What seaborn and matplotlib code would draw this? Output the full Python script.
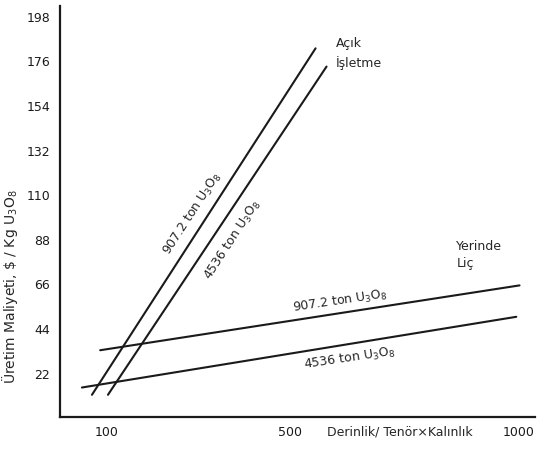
import pandas as pd
import matplotlib
matplotlib.use("Agg")
import matplotlib.pyplot as plt
import seaborn as sns

# Değerler (grafikten okunmuş uç noktalar)
seriler = ["acik_907", "acik_4536", "yerinde_907", "yerinde_4536"]
x_bas = [67, 102, 85, 45]
x_son = [556, 580, 1002, 995]
y_bas = [11, 11, 33, 14.6]
y_son = [182, 173, 65, 49.5]

x_ticks = [100, 200, 300, 400, 500, 600, 700, 800, 900, 1000]
x_tick_labels = ["100", "", "", "", "500", "", "", "", "", "1000"]
y_ticks = [22, 44, 66, 88, 110, 132, 154, 176, 198]

df = pd.DataFrame({
    "seri": seriler * 2,
    "x": x_bas + x_son,
    "y": y_bas + y_son,
})

sns.set_style("white")
plt.rcParams["font.family"] = ["DejaVu Sans"]

fig = plt.figure(figsize=(5.4, 4.52), dpi=100)
ax = fig.add_axes([0.111, 0.075, 0.879, 0.91])

sns.lineplot(data=df, x="x", y="y", units="seri", estimator=None,
             color="#1a1a1a", linewidth=1.5, ax=ax)

ax.set_xlim(-3, 1035)
ax.set_ylim(0, 203)
ax.set_xticks(x_ticks)
ax.set_xticklabels(x_tick_labels)
ax.set_yticks(y_ticks)
ax.tick_params(direction="in", length=4, width=1.2, labelsize=9,
               colors="#1a1a1a")
ax.tick_params(axis="x", pad=6)
ax.tick_params(axis="y", pad=7)
for s in ["top", "right"]:
    ax.spines[s].set_visible(False)
for s in ["left", "bottom"]:
    ax.spines[s].set_linewidth(1.6)
    ax.spines[s].set_color("#1a1a1a")

ax.set_ylabel(r"Üretim Maliyeti, \$ / Kg U$_3$O$_8$", fontsize=10)
ax.yaxis.set_label_coords(-0.084, 0.32)
ax.set_xlabel("Derinlik/ Tenör×Kalınlık", fontsize=9)
ax.xaxis.set_label_coords(0.716, -0.017)

# Etiketler
ax.text(600, 188, "Açık\nİşletme", fontsize=9, ha="left", va="top",
        linespacing=1.5)
ax.text(864, 88, "Yerinde\nLiç", fontsize=9, ha="left", va="top",
        linespacing=1.4)
ax.text(288, 101, r"907.2 ton U$_3$O$_8$", fontsize=9, rotation=57,
        ha="center", va="center")
ax.text(375, 88, r"4536 ton U$_3$O$_8$", fontsize=9, rotation=57,
        ha="center", va="center")
ax.text(609, 57.5, r"907.2 ton U$_3$O$_8$", fontsize=9, rotation=8.5,
        ha="center", va="center")
ax.text(631, 29.5, r"4536 ton U$_3$O$_8$", fontsize=9, rotation=8.5,
        ha="center", va="center")

fig.savefig("out.png", dpi=100)
